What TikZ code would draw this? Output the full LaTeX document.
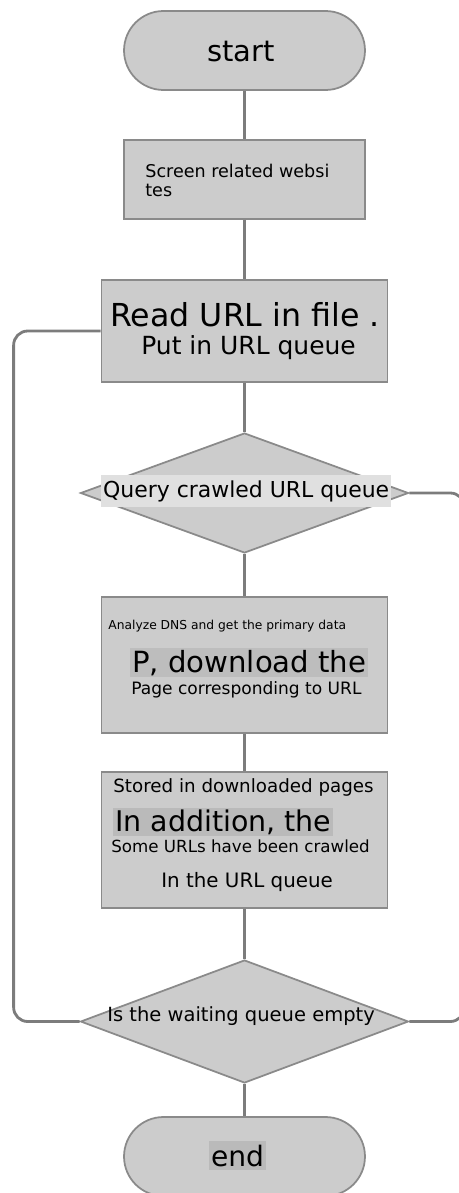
\documentclass[tikz,border=0pt]{standalone}
\usepackage{fontspec}
\setmainfont{DejaVu Sans}
\usetikzlibrary{shapes.geometric}
\definecolor{boxfill}{HTML}{CCCCCC}
\definecolor{boxline}{HTML}{8A8A8A}
\definecolor{wire}{HTML}{7C7C7C}
\begin{document}
\begin{tikzpicture}[x=0.02cm,y=-0.02cm,
  term/.style={draw=boxline,fill=boxfill,line width=1pt,rounded corners=0.79cm,minimum width=4.82cm,minimum height=1.58cm,inner sep=0pt},
  proc/.style={draw=boxline,fill=boxfill,line width=1pt,minimum width=5.72cm,inner sep=0pt},
  test/.style={diamond,draw=boxline,fill=boxfill,line width=1pt,minimum width=6.56cm,inner sep=0pt},
  txt/.style={font=\fontsize{#1}{#1}\selectfont,inner sep=0pt,anchor=base west},
  conn/.style={draw=wire,line width=1.6pt}]
 \clip (0,0) rectangle (459,1193);
 % boxes
 \node[term] (start) at (244.5,50.5) {};
 \node[proc,minimum width=4.82cm,minimum height=1.58cm] (screen) at (244.5,179.5) {};
 \node[proc,minimum height=2.04cm] (read) at (244.5,331) {};
 \node[test,minimum height=2.4cm] (query) at (244.5,493) {};
 \node[proc,minimum height=2.72cm] (fetch) at (244.5,665) {};
 \node[proc,minimum height=2.72cm] (store) at (244.5,840) {};
 \node[test,minimum height=2.46cm] (check) at (244.5,1021.5) {};
 \node[term] (end) at (244.5,1156.5) {};
 % texts
 \node[txt=16.5] (startT) at (207,62) {start};
 \node[txt=10] (screenA) at (145,177) {Screen related websi};
 \node[txt=10] (screenB) at (145,196) {tes};
 \node[txt=18] (readA) at (110,326) {Read URL in file .};
 \node[txt=14.2] (readB) at (141,354) {Put in URL queue};
 \node[txt=12.5,fill=black!12,inner xsep=1pt,inner ysep=3pt] (queryT) at (101,497) {Query crawled URL queue};
 \node[txt=7] (fetchA) at (108,629) {Analyze DNS and get the primary data};
 \node[txt=16.6,fill=black!26,inner xsep=1pt,inner ysep=1pt] (fetchB) at (130,672) {P, download the};
 \node[txt=9.7] (fetchC) at (131,694) {Page corresponding to URL};
 \node[txt=10.4] (storeA) at (113,792) {Stored in downloaded pages};
 \node[txt=16.2,fill=black!27,inner xsep=1pt,inner ysep=1pt] (storeB) at (113,831) {In addition, the};
 \node[txt=9.5] (storeC) at (111,852) {Some URLs have been crawled};
 \node[txt=11.3] (storeD) at (161,887) {In the URL queue};
 \node[txt=11.1] (checkT) at (107,1021) {Is the waiting queue empty};
 \node[txt=16,fill=black!27,inner xsep=1pt,inner ysep=2pt] (endT) at (209,1166) {end};
 % connectors
 \draw[conn] (start) -- (screen);
 \draw[conn] (screen) -- (read);
 \draw[conn] (read) -- (query);
 \draw[conn] (query) -- (fetch);
 \draw[conn] (fetch) -- (store);
 \draw[conn] (store) -- (check);
 \draw[conn] (check) -- (end);
 \draw[conn,rounded corners=8pt] (check.west) -- ++(-66,0) |- (read.west);
 \draw[conn,rounded corners=8pt] (query.east) -- ++(55,0) |- (check.east);
\end{tikzpicture}
\end{document}
